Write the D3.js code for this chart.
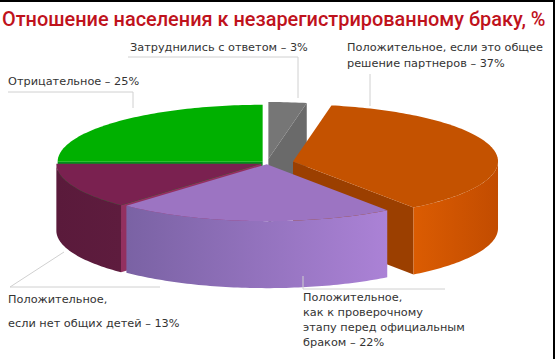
<!DOCTYPE html>
<html><head><meta charset="utf-8">
<script src="https://cdn.jsdelivr.net/npm/d3@7"></script>
<style>
html,body{margin:0;padding:0;background:#fff;}
svg{display:block;}
</style></head>
<body>
<svg id="chart" width="555" height="359"></svg>
<script>
// ---- data ----
const title = "Отношение населения к незарегистрированному браку, %";
const categories = ["Затруднились с ответом", "Положительное, если это общее решение партнеров",
  "Положительное, как к проверочному этапу перед официальным браком",
  "Положительное, если нет общих детей", "Отрицательное"];
const values = [3, 37, 22, 13, 25];
const labelLines = [
  ["Затруднились с ответом – 3%"],
  ["Положительное, если это общее", "решение партнеров – 37%"],
  ["Положительное,", "как к проверочному", "этапу перед официальным", "браком – 22%"],
  ["Положительное,", "если нет общих детей – 13%"],
  ["Отрицательное – 25%"]
];
const topColors  = ["#767676", "#c45200", "#9c74c2", "#7a2150", "#00b000"];
const wallColorsA = ["#6c6c6c", "#db5c02", "#7a62a4", "#5a1a3b", "#009a10"];
const wallColorsB = ["#666666", "#c24c00", "#ab82d6", "#5e1c3e", "#009a10"];
const cutColors  = ["#6a6a6a", "#9b3f00", "#7d5ea5", "#933060", "#00901a"];
const explode    = [0.07, 0.13, 0.02, 0.03, 0.03];

// ---- layout ----
const W = 555, H = 359;
const cx = 267, cy = 163, rx = 205, ry = 57, depth = 67;
const svg = d3.select("#chart");

svg.append("rect").attr("x",0).attr("y",0).attr("width",W).attr("height",H).attr("fill","#fff");
svg.append("rect").attr("x",0).attr("y",0).attr("width",W).attr("height",2).attr("fill","#000");
svg.append("rect").attr("x",W-2).attr("y",0).attr("width",2).attr("height",H).attr("fill","#000");

const tt = svg.append("text").attr("x",2).attr("y",26)
  .attr("font-family","Roboto, 'Open Sans', sans-serif").attr("font-size",21).attr("font-weight",500)
  .attr("fill","#bf121c").text(title);
const tl = tt.node().getComputedTextLength();
tt.attr("font-size", 21*544/tl);

const pie = d3.pie().sort(null).startAngle(0).endAngle(2*Math.PI);
const arcs = pie(values);

const sx = d3.scaleLinear().domain([-1,1]).range([-rx, rx]);
const sy = d3.scaleLinear().domain([-1,1]).range([-ry, ry]);

function P(c, a, r, dz){ return [c[0] + sx(r*Math.sin(a)), c[1] - sy(r*Math.cos(a)) + (dz||0)]; }
function arcPts(c, a0, a1, dz){
  const n = Math.max(2, Math.ceil((a1-a0)/0.02));
  const pts = [];
  for(let i=0;i<=n;i++){ const a=a0+(a1-a0)*i/n; pts.push(P(c,a,1,dz)); }
  return pts;
}
const line = d3.line();

const defs = svg.append("defs");
const slices = arcs.map((d,i)=>{
  const mid = (d.startAngle+d.endAngle)/2;
  const e = explode[i];
  const c = [cx + sx(e*Math.sin(mid)), cy - sy(e*Math.cos(mid))];
  return {d, i, mid, c};
});
const order = slices.slice().sort((a,b)=> (-Math.cos(a.mid)) - (-Math.cos(b.mid)));

const g = svg.append("g");
order.forEach(s=>{
  const {d,i,c} = s;
  const a0=d.startAngle, a1=d.endAngle;
  const sg = g.append("g");
  [[a0, Math.sin(a0) < -1e-6],[a1, Math.sin(a1) > 1e-6]].forEach(([a,vis])=>{
    if(!vis) return;
    const pts=[c, P(c,a,1,0), P(c,a,1,depth), [c[0],c[1]+depth]];
    sg.append("path").attr("d", line(pts)+"Z").attr("fill", cutColors[i]);
  });
  const w0=Math.max(a0, Math.PI/2), w1=Math.min(a1, 3*Math.PI/2);
  if(w1>w0){
    const top=arcPts(c,w0,w1,0), bot=arcPts(c,w0,w1,depth).reverse();
    const gid="wall"+i;
    const xs = top.map(p=>p[0]);
    const gr = defs.append("linearGradient").attr("id",gid).attr("gradientUnits","userSpaceOnUse")
      .attr("x1", d3.min(xs)).attr("x2", d3.max(xs)).attr("y1",0).attr("y2",0);
    gr.append("stop").attr("offset",0).attr("stop-color", wallColorsA[i]);
    gr.append("stop").attr("offset",1).attr("stop-color", wallColorsB[i]);
    sg.append("path").attr("d", line(top.concat(bot))+"Z").attr("fill","url(#"+gid+")");
  }
  const tp=[c].concat(arcPts(c,a0,a1,0));
  sg.append("path").attr("d", line(tp)+"Z").attr("fill", topColors[i]);
});

// ---- leader lines ----
const leaders = [
  [[128,57],[298,57],[298,98]],
  [[370,74],[370,106]],
  [[303,276],[303,289],[445,289]],
  [[160,287],[10,287],[64,252]],
  [[8,92],[133,92],[133,108]]
];
svg.append("g").selectAll("path").data(leaders).join("path")
  .attr("d", p=>line(p)).attr("fill","none").attr("stroke","#d0d0d0").attr("stroke-width",1);

// ---- labels ----
const labelPos = [[130,51,16],[347,51,16],[303,301,15],[8,303,24],[8,85,16]];
const lg = svg.append("g").attr("font-family","'DejaVu Sans', sans-serif").attr("font-size",11.3).attr("fill","#333");
labelLines.forEach((lines,i)=>{
  const [x,y,lh] = labelPos[i];
  lines.forEach((s,k)=> lg.append("text").attr("x",x).attr("y",y+k*lh).text(s));
});
</script>
</body></html>
